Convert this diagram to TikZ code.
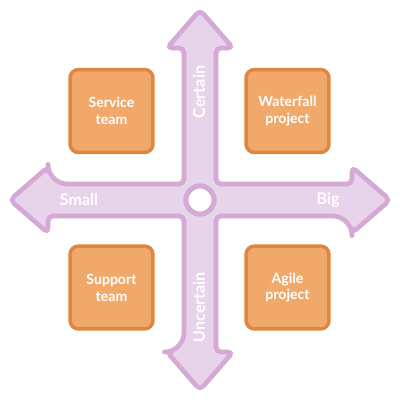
\documentclass[tikz,border=0pt]{standalone}
\usepackage{fontspec}
\setmainfont{Lato}
\definecolor{armfill}{HTML}{E8D4EA}
\definecolor{armline}{HTML}{D4AAD4}
\definecolor{boxfill}{HTML}{F1A96B}
\definecolor{boxline}{HTML}{E0873F}
\tikzset{
  box/.style={draw=boxline, fill=boxfill, line width=2.5pt, rounded corners=6pt,
    minimum size=59pt, inner sep=0pt, align=center, text=white,
    font=\fontsize{10}{12}\selectfont\bfseries},
  armlabel/.style={text=white, inner sep=0pt, font=\fontsize{11.4}{13}\selectfont\bfseries}
}
\begin{document}
\begin{tikzpicture}[x=0.025cm, y=-0.025cm]
  \useasboundingbox (0,0) rectangle (400,400);
  % Vẽ mũi tên chữ thập
  \draw[armline, fill=armfill, line width=3.3pt, line join=round]
    (216,120) [rounded corners=3.5pt]
    -- (216,48) -- (233,48) -- (200,10) -- (167,48) -- (184,48)
    -- (184,184) [rounded corners=14pt] -- (48,184) [rounded corners=3.5pt]
    -- (48,167) -- (10,200) -- (48,233) -- (48,216)
    -- (184,216) [rounded corners=14pt] -- (184,352) [rounded corners=3.5pt]
    -- (167,352) -- (200,390) -- (233,352) -- (216,352)
    -- (216,216) [rounded corners=14pt] -- (352,216) [rounded corners=3.5pt]
    -- (352,233) -- (390,200) -- (352,167) -- (352,184)
    -- (216,184) [rounded corners=14pt] -- cycle;
  \node[circle, draw=armline, fill=white, line width=3.6pt, minimum size=20pt, inner sep=0pt] (hub) at (200,200) {};
  % Ghi chú trên các trục
  \node[armlabel, rotate=90] (certain) at (199,92) {Certain};
  \node[armlabel, rotate=90] (uncertain) at (199,307) {Uncertain};
  \node[armlabel] (small) at (79,200) {Small};
  \node[armlabel] (big) at (328,200) {Big};
  % Bốn ô
  \node[box] (service) at (111.5,111) {Service\\team};
  \node[box] (waterfall) at (287.5,111) {Waterfall\\project};
  \node[box] (support) at (111.5,287.5) {Support\\team};
  \node[box] (agile) at (287.5,287.5) {Agile\\project};
\end{tikzpicture}
\end{document}
